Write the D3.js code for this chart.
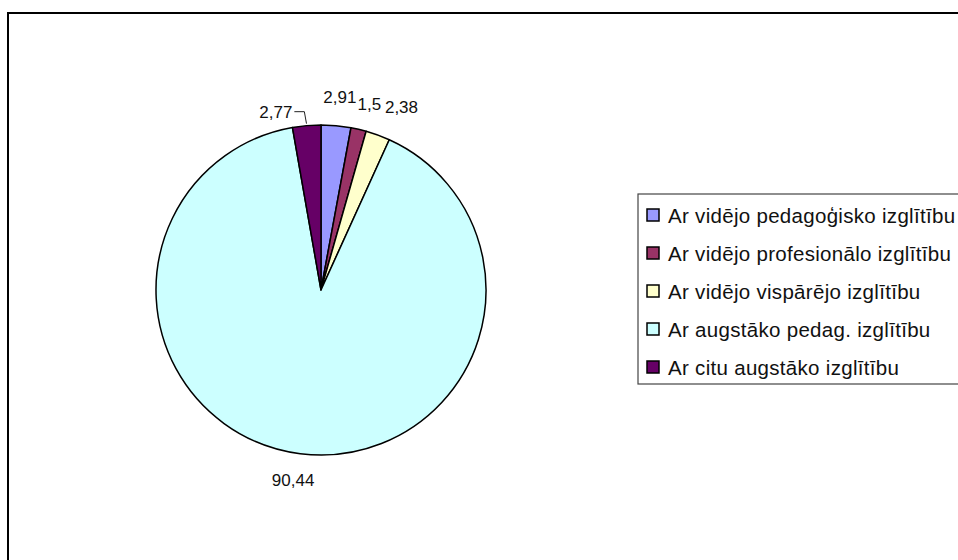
<!DOCTYPE html>
<html>
<head>
<meta charset="utf-8">
<script src="https://cdn.jsdelivr.net/npm/d3@7"></script>
<style>
  body { margin: 0; background: #fff; }
  text { font-family: "Liberation Sans", Arial, sans-serif; }
</style>
</head>
<body>
<script>
var categories = ['Ar vidējo pedagoģisko izglītību', 'Ar vidējo profesionālo izglītību', 'Ar vidējo vispārējo izglītību', 'Ar augstāko pedag. izglītību', 'Ar citu augstāko izglītību']
var values = [2.91, 1.5, 2.38, 90.44, 2.77]
var valueLabels = ['2,91', '1,5', '2,38', '90,44', '2,77']
var colors = ['#9999ff', '#993366', '#ffffcc', '#ccffff', '#660066']

var width = 958, height = 560
var cx = 321, cy = 290, radius = 165
var leaderSlice = 4
// small nudges so the crowded labels sit like the original
var labelNudge = [[1.5, -4], [5, -1], [15, -5], [-4, 2], [0, 0]]

var svg = d3.select('body')
            .append('svg')
            .attr('width', width)
            .attr('height', height)

// chart frame (runs off the right and bottom edge)
svg.append('rect')
   .attr('x', 8).attr('y', 13)
   .attr('width', 1000).attr('height', 600)
   .attr('fill', 'white')
   .attr('stroke', 'black')
   .attr('stroke-width', 2)

var pie = d3.pie().sort(null)
var arcs = pie(values)
var arc = d3.arc().innerRadius(0).outerRadius(radius)
var labelArc = d3.arc().innerRadius(radius + 25).outerRadius(radius + 25)

var g = svg.append('g').attr('transform', 'translate(' + cx + ',' + cy + ')')

g.selectAll('path.slice')
 .data(arcs)
 .enter()
 .append('path')
 .attr('class', 'slice')
 .attr('d', arc)
 .attr('fill', function(d, i){ return colors[i] })
 .attr('stroke', 'black')
 .attr('stroke-width', 1.5)
 .attr('stroke-linejoin', 'round')

// leader line for the moved label
var lead = arcs[leaderSlice]
var mid = (lead.startAngle + lead.endAngle) / 2
var p0 = [Math.sin(mid) * (radius + 2), -Math.cos(mid) * (radius + 2)]
var p1 = [Math.sin(mid) * 180 - 1, -Math.cos(mid) * 180 + 1]

// data labels
g.selectAll('text.val')
 .data(arcs)
 .enter()
 .append('text')
 .attr('class', 'val')
 .text(function(d, i){ return valueLabels[i] })
 .attr('font-size', 17)
 .attr('fill', '#111')
 .attr('text-anchor', function(d, i){ return i == leaderSlice ? 'end' : 'middle' })
 .attr('x', function(d, i){
   if (i == leaderSlice) return p1[0] - 12
   return labelArc.centroid(d)[0] + labelNudge[i][0]
 })
 .attr('y', function(d, i){
   if (i == leaderSlice) return p1[1] + 6
   return labelArc.centroid(d)[1] + 6 + labelNudge[i][1]
 })

g.append('path')
 .attr('d', d3.line()([p0, p1, [p1[0] - 10, p1[1]]]))
 .attr('fill', 'none')
 .attr('stroke', '#222')
 .attr('stroke-width', 1)

// legend
var legend = svg.append('g').attr('transform', 'translate(638,194)')
legend.append('rect')
      .attr('x', 0).attr('y', 0)
      .attr('width', 340).attr('height', 190)
      .attr('fill', 'white')
      .attr('stroke', '#444')
      .attr('stroke-width', 1.2)

var rows = legend.selectAll('g.row')
                 .data(categories)
                 .enter()
                 .append('g')
                 .attr('class', 'row')
                 .attr('transform', function(d, i){ return 'translate(0,' + (21 + i * 38) + ')' })

rows.append('rect')
    .attr('x', 9).attr('y', -6)
    .attr('width', 12).attr('height', 12)
    .attr('fill', function(d, i){ return colors[i] })
    .attr('stroke', 'black')
    .attr('stroke-width', 1.5)

rows.append('text')
    .text(function(d){ return d })
    .attr('x', 30)
    .attr('y', 7.5)
    .attr('font-size', 20.5)
    .attr('letter-spacing', 0.3)
    .attr('fill', '#111')
</script>
</body>
</html>
